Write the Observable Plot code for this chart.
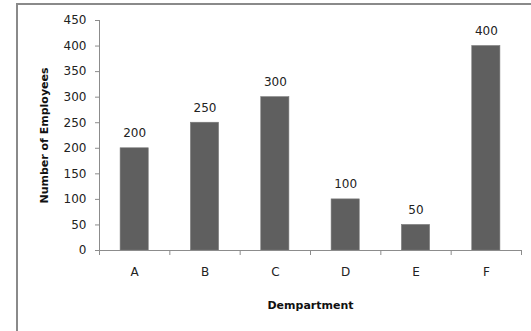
<!DOCTYPE html>
<html><head><meta charset="utf-8">
<script src="https://cdn.jsdelivr.net/npm/d3@7"></script>
<script src="https://cdn.jsdelivr.net/npm/@observablehq/plot@0.6"></script>
<style>
body{margin:0;background:#fff;}
#wrap{position:relative;width:531px;height:331px;overflow:hidden;}
#border{position:absolute;left:16px;top:3px;width:600px;height:400px;border:2px solid #8a8a8a;box-sizing:border-box;}
#chart{position:absolute;left:0;top:0;}
</style></head><body><div id="wrap"><div id="border"></div><div id="chart"></div></div>
<script>
const departments = ["A","B","C","D","E","F"];
const employees = [200,250,300,100,50,400];
const yTicks = [0,50,100,150,200,250,300,350,400,450];
const xTitle = "Dempartment";
const yTitle = "Number of Employees";

const data = departments.map((d,i)=>({dept:d, i, value:employees[i]}));
const boundaries = d3.range(departments.length + 1);
const centers = departments.map((d,i)=>i+0.5);

const plot = Plot.plot({
  width:531, height:331,
  marginLeft:99, marginRight:10, marginTop:20, marginBottom:81,
  style:{fontFamily:"DejaVu Sans", fontSize:"12px", background:"transparent", color:"#222"},
  x:{domain:[0,departments.length], axis:null},
  y:{domain:[0,450], axis:null},
  marks:[
    Plot.rectY(data,{x1:d=>d.i+0.3, x2:d=>d.i+0.7, y:"value", fill:"#5f5f5f", stroke:"#7a7a7a", strokeWidth:0.6}),
    Plot.text(data,{x:d=>d.i+0.5, y:"value", text:d=>String(d.value), dy:-15, fontSize:12, fill:"#222"}),
    Plot.ruleY([0],{stroke:"#8c8c8c"}),
    Plot.ruleX([0],{stroke:"#8c8c8c"}),
    Plot.axisY({ticks:yTicks, tickSize:4, tickPadding:9, label:null, stroke:"#8c8c8c", fill:"#222", fontSize:12}),
    Plot.axisX({ticks:boundaries, tickSize:5, tickFormat:()=>"", label:null, stroke:"#8c8c8c"}),
    Plot.axisX({ticks:centers, tickSize:0, tickPadding:17, tickFormat:v=>departments[Math.floor(v)], label:null, fill:"#222", fontSize:12}),
    Plot.text([xTitle],{frameAnchor:"bottom", lineAnchor:"middle", textAnchor:"middle", dy:55, fontWeight:"bold", fontSize:11, fill:"#111"}),
    Plot.text([yTitle],{frameAnchor:"left", lineAnchor:"middle", textAnchor:"middle", rotate:-90, dx:-55, fontWeight:"bold", fontSize:11, fill:"#111"})
  ]
});
document.getElementById("chart").append(plot);
</script></body></html>
